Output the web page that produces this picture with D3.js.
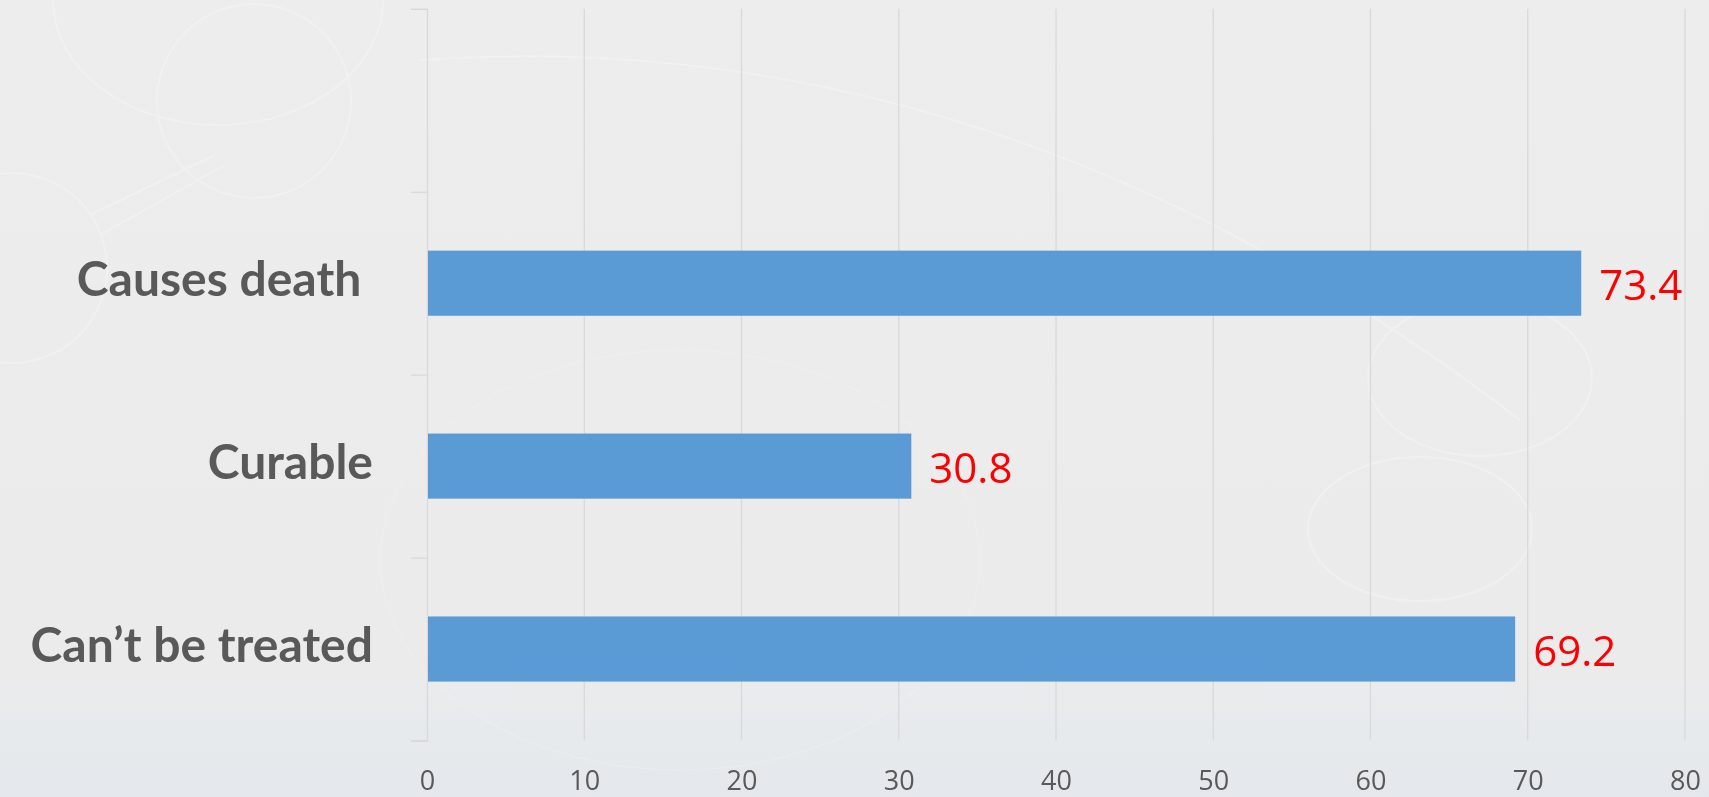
<!DOCTYPE html>
<html>
<head>
<meta charset="utf-8">
<script src="https://cdn.jsdelivr.net/npm/d3@7"></script>
<style>
  html, body { margin: 0; padding: 0; background: #ececec; overflow: hidden; }
  svg { display: block; }
</style>
</head>
<body>
<svg id="chart" width="1709" height="797"></svg>
<script>
// ---- data ----
const categories = ["", "Causes death", "Curable", "Can\u2019t be treated"];
const values = [null, 73.4, 30.8, 69.2];
const xTicks = [0, 10, 20, 30, 40, 50, 60, 70, 80];

const W = 1709, H = 797;
const svg = d3.select("#chart");

// ---- background ----
const defs = svg.append("defs");
const bg = defs.append("linearGradient").attr("id", "bg").attr("x1", 0).attr("y1", 0).attr("x2", 0).attr("y2", 1);
bg.append("stop").attr("offset", "0%").attr("stop-color", "#ededed");
bg.append("stop").attr("offset", "85%").attr("stop-color", "#ebebec");
bg.append("stop").attr("offset", "91%").attr("stop-color", "#e7eaed");
bg.append("stop").attr("offset", "100%").attr("stop-color", "#e4e8ec");
svg.append("rect").attr("width", W).attr("height", H).attr("fill", "url(#bg)");

// faint decorative shapes
const deco = svg.append("g").attr("fill", "none").attr("stroke", "#f5f5f5").attr("stroke-width", 2).attr("opacity", 0.55);
deco.append("circle").attr("cx", 254).attr("cy", 101).attr("r", 97);
deco.append("circle").attr("cx", 12).attr("cy", 268).attr("r", 95);
deco.append("ellipse").attr("cx", 1480).attr("cy", 378).attr("rx", 112).attr("ry", 78);
deco.append("ellipse").attr("cx", 1420).attr("cy", 529).attr("rx", 112).attr("ry", 72);
deco.append("ellipse").attr("cx", 218).attr("cy", 0).attr("rx", 165).attr("ry", 125);
deco.append("path").attr("d", "M 420 60 Q 1000 20 1520 420");
deco.append("path").attr("d", "M 90 215 L 215 155");
deco.append("path").attr("d", "M 100 235 L 225 165");
deco.append("ellipse").attr("cx", 680).attr("cy", 560).attr("rx", 300).attr("ry", 210).attr("stroke-width", 1.5).attr("opacity", 0.5);

// ---- layout ----
const margin = { left: 427, right: 1709 - 1685, top: 8.8, bottom: 797 - 740.5 };
const x = d3.scaleLinear().domain([0, 80]).range([margin.left, W - margin.right]);
const y = d3.scaleBand().domain(categories.map((c, i) => i)).range([margin.top, H - margin.bottom])
  .paddingInner(0.644).paddingOuter(0.322);
const yAxisBand = d3.scaleBand().domain(categories.map((c, i) => i)).range([margin.top, H - margin.bottom]);

// gridlines
svg.append("g").selectAll("line").data(xTicks.filter(t => t > 0)).join("line")
  .attr("x1", d => x(d)).attr("x2", d => x(d))
  .attr("y1", margin.top).attr("y2", H - margin.bottom)
  .attr("stroke", "#d9d9d9").attr("stroke-width", 1.3);

// category axis (left) with tick marks between categories
const yAxis = d3.axisLeft(d3.scaleLinear().domain([0, categories.length]).range([margin.top, H - margin.bottom]))
  .tickValues(d3.range(categories.length + 1)).tickSize(16).tickFormat("");
const yg = svg.append("g").attr("transform", `translate(${x(0)},0)`).call(yAxis);
yg.select(".domain").attr("stroke", "#d9d9d9").attr("stroke-width", 1.3);
yg.selectAll(".tick line").attr("stroke", "#d9d9d9").attr("stroke-width", 1.3);

// category labels
svg.append("g").selectAll("text").data(categories).join("text")
  .attr("x", 373)
  .attr("y", (d, i) => yAxisBand(i) + yAxisBand.bandwidth() / 2 + 13)
  .attr("text-anchor", "end")
  .style("white-space", "pre")
  .attr("font-family", "Lato, 'Open Sans', sans-serif")
  .attr("font-weight", 700)
  .attr("font-size", 48)
  .attr("fill", "#595959")
  .text((d, i) => i === 1 ? d + " " : d);

// x axis tick labels
const xAxis = d3.axisBottom(x).tickValues(xTicks).tickSize(0).tickPadding(0);
const xg = svg.append("g").attr("transform", `translate(0,${H - margin.bottom})`).call(xAxis);
xg.select(".domain").remove();
xg.selectAll("text")
  .attr("y", 49).attr("dy", null)
  .attr("font-family", "'Open Sans', sans-serif")
  .attr("font-size", 27)
  .attr("fill", "#595959");

// bars
const barData = categories.map((c, i) => ({ c, i, v: values[i] })).filter(d => d.v != null);
svg.append("g").selectAll("rect").data(barData).join("rect")
  .attr("x", x(0) + 1)
  .attr("y", d => y(d.i))
  .attr("width", d => x(d.v) - x(0) - 1)
  .attr("height", y.bandwidth())
  .attr("fill", "#5b9bd5");

// value labels
svg.append("g").selectAll("text").data(barData).join("text")
  .attr("x", d => x(d.v) + 18)
  .attr("y", d => y(d.i) + y.bandwidth() / 2 + 17)
  .attr("font-family", "'Open Sans', sans-serif")
  .attr("font-size", 42)
  .attr("fill", "#ff0000")
  .text(d => d.v.toFixed(1));
</script>
</body>
</html>
